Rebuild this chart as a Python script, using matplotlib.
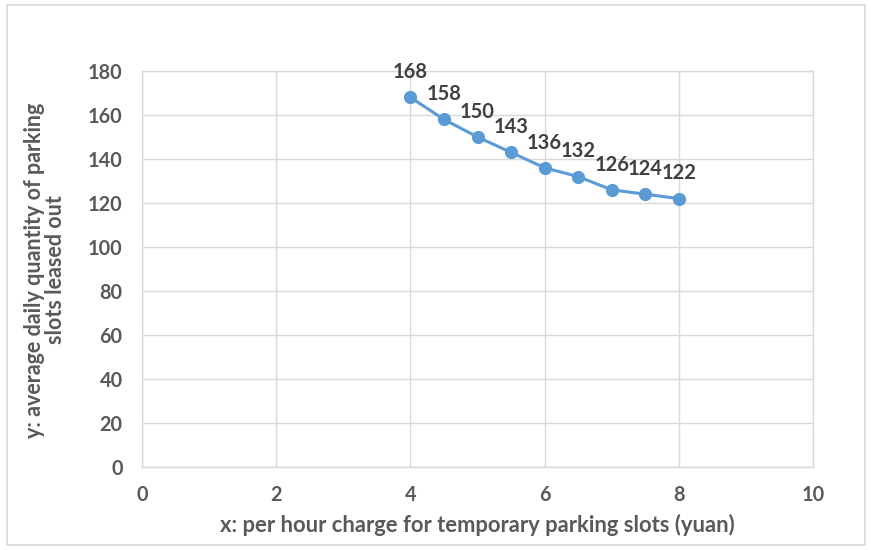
import matplotlib
matplotlib.use("Agg")
import matplotlib.pyplot as plt
from matplotlib.patches import Rectangle

x_vals = [4, 4.5, 5, 5.5, 6, 6.5, 7, 7.5, 8]
y_vals = [168, 158, 150, 143, 136, 132, 126, 124, 122]
x_ticks = [0, 2, 4, 6, 8, 10]
y_ticks = [0, 20, 40, 60, 80, 100, 120, 140, 160, 180]
x_label = "x: per hour charge for temporary parking slots (yuan)"
y_label = "y: average daily quantity of parking\nslots leased out"

plt.rcParams['font.family'] = ['Lato', 'DejaVu Sans']
txt = '#595959'
grid = '#d9d9d9'

fig = plt.figure(figsize=(8.71, 5.5), dpi=100)
fig.patches.append(Rectangle((7/871, 5/550), 858/871, 540/550, transform=fig.transFigure,
                             fill=False, edgecolor='#d9d9d9', linewidth=1.2))
ax = fig.add_axes([142/871, 1-467/550, (813-142)/871, (467-71)/550])
ax.set_xlim(0, 10)
ax.set_ylim(0, 180)
ax.set_xticks(x_ticks)
ax.set_yticks(y_ticks)
ax.grid(True, color=grid, linewidth=1)
ax.set_axisbelow(True)
for s in ax.spines.values():
    s.set_color(grid)
    s.set_linewidth(1)
ax.tick_params(length=0, colors=txt, labelsize=14.3)
ax.tick_params(axis='x', pad=13)
ax.tick_params(axis='y', pad=14)
for lab in ax.get_xticklabels() + ax.get_yticklabels():
    lab.set_fontweight('bold')

ax.plot(x_vals, y_vals, color='#5B9BD5', linewidth=2.2, marker='o', markersize=8.5, zorder=3)
for xv, yv in zip(x_vals, y_vals):
    ax.annotate(str(yv), (xv, yv), textcoords='offset points', xytext=(0, 11),
                ha='center', va='bottom', fontsize=14.5, fontweight='bold', color='#404040')

fig.text(477/871, 1-525/550, x_label, ha='center', va='center', fontsize=15.8,
         fontweight='bold', color=txt)
fig.text(45/871, 1-270/550, y_label, ha='center', va='center', fontsize=15.5,
         fontweight='bold', color=txt, rotation=90, multialignment='center',
         linespacing=1.05)

fig.savefig('out.png', dpi=100)
